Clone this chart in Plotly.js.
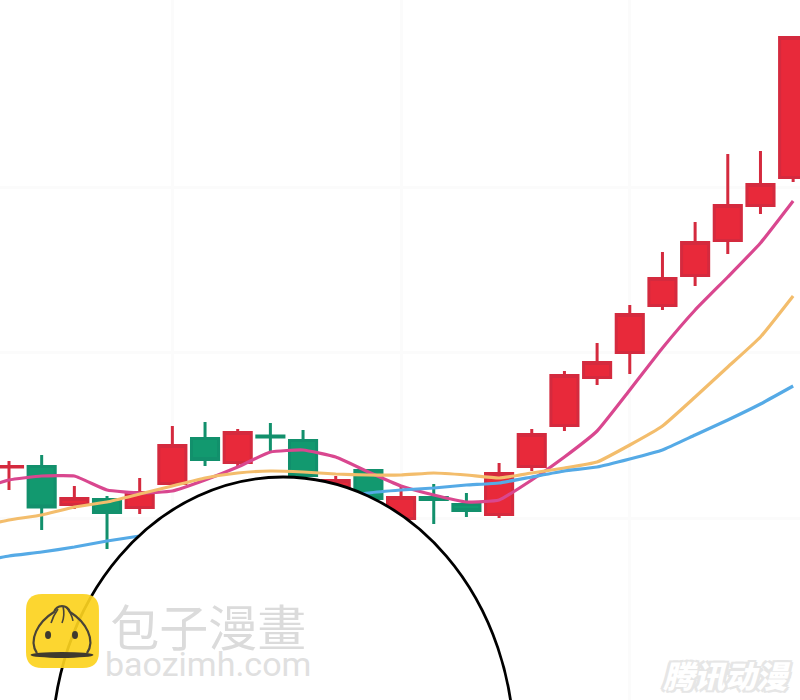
<!DOCTYPE html>
<html>
<head>
<meta charset="utf-8">
<script src="https://cdn.plot.ly/plotly-3.0.1.min.js"></script>
<style>html,body{margin:0;padding:0;background:#fff;overflow:hidden}</style>
</head>
<body>
<div id="chart" style="width:800px;height:700px"></div>
<script>
var candleIndex = [0,1,2,3,4,5,6,7,8,9,10,11,12,13,14,15,16,17,18,19,20,21,22,23,24];
var opens  = [233,233.5,195.5,200.5,192.5,216.5,261.5,237.5,264,259.5,213.5,229.5,181.5,202.5,195.5,185.5,233.5,274.5,322.5,347.5,394.5,424.5,459.5,494.5,522.5];
var closes = [233.5,193,201.5,187.5,207.5,254.5,240.5,267.5,263,224.5,219.5,201.5,202.5,200.5,189.5,226.5,265.5,324.5,337.5,385.5,421.5,457.5,494.5,515.5,662.5];
var highs  = [239,245,214,204,222,274,278,271,277,270,224,231,214,216,207,237,271,329,357,395,448,478,546,549,664];
var lows   = [210,170,191,151,186,215,234,232,248,223,210,198,178,176,183,182,229,269,315,326,390,414,446,486,518];

var maIndex = [-1,0,1,2,3,4,5,6,7,8,9,10,11,12,13,14,15,16,17,18,19,20,21,22,23,24];
var ma5  = [210,220,224,224,210,207,209,220,233,248,250,243,228,214,205,198,200,220,243,269,310,352,390,423,457,499];
var ma10 = [173,180,185,193,198,206,214,222,227,229,228,226,225,225,227,225,222,227,232,238,255,274,303,333,363,404];
var ma20 = [138,144,148,153,159,164,170,176,182,188,194,201,207,210,212,215,217,223,229,233,241,250,265,280,296,314];

var gridX = [5,12,19];
var gridY = [182,348,513];

var W = 800, H = 700;
function px(x){return (x/W).toFixed(4);}
function py(y){return ((H-y)/H).toFixed(4);}
function path(cmds){
  return cmds.map(function(c){
    var out = c[0];
    for (var i=1;i<c.length;i+=2){ out += (i>1?' ':'') + px(c[i]) + ',' + py(c[i+1]) + ' '; }
    return out;
  }).join('');
}
function paperShape(o){o.xref='paper';o.yref='paper';return o;}

var red='#e8293a', redLine='#d42a3e', green='#12996f', greenLine='#12906c';

var traces = [
  {type:'candlestick', x:candleIndex, open:opens, high:highs, low:lows, close:closes,
   increasing:{line:{color:redLine,width:3},fillcolor:red},
   decreasing:{line:{color:greenLine,width:3},fillcolor:green},
   whiskerwidth:0, showlegend:false, hoverinfo:'skip'},
  {type:'scatter', mode:'lines', x:maIndex, y:ma5,  line:{color:'#d9478f',width:3.2,shape:'spline',smoothing:0.4}, showlegend:false, hoverinfo:'skip'},
  {type:'scatter', mode:'lines', x:maIndex, y:ma10, line:{color:'#f3bd6c',width:3.2,shape:'spline',smoothing:0.4}, showlegend:false, hoverinfo:'skip'},
  {type:'scatter', mode:'lines', x:maIndex, y:ma20, line:{color:'#55aae6',width:3.2,shape:'spline',smoothing:0.4}, showlegend:false, hoverinfo:'skip'}
];

var shapes = [
  paperShape({type:'circle', x0:px(52), x1:px(514), y0:py(477), y1:py(1017),
    fillcolor:'#ffffff', line:{color:'#000000',width:2.8}, layer:'above'}),
  paperShape({type:'path', opacity:0.92, layer:'above', fillcolor:'#fcd21e', line:{width:0},
    path:path([['M',42,594],['L',83,594],['Q',99,594,99,610],['L',99,652],['Q',99,668,83,668],['L',42,668],['Q',26,668,26,652],['L',26,610],['Q',26,594,42,594],['Z']])}),
  paperShape({type:'path', layer:'above', line:{color:'#4a4436',width:2.2},
    path:path([['M',37,653],['C',28,640,38,622,54,612],['C',57,604,67,604,70,612],['C',86,622,96,640,87,653]])}),
  paperShape({type:'path', layer:'above', line:{color:'#4a4436',width:1.6},
    path:path([['M',58,609],['Q',53,616,51,623]])}),
  paperShape({type:'path', layer:'above', line:{color:'#4a4436',width:1.6},
    path:path([['M',63,606],['Q',65,616,62,623]])}),
  paperShape({type:'path', layer:'above', line:{color:'#4a4436',width:1.6},
    path:path([['M',66,607],['Q',72,614,73,621]])}),
  paperShape({type:'circle', layer:'above', fillcolor:'#3f3a2e', line:{width:0}, x0:px(30.5), x1:px(93.5), y0:py(652), y1:py(658)}),
  paperShape({type:'circle', layer:'above', fillcolor:'#3f3a2e', line:{width:0}, x0:px(45), x1:px(51), y0:py(631), y1:py(639)}),
  paperShape({type:'circle', layer:'above', fillcolor:'#3f3a2e', line:{width:0}, x0:px(72), x1:px(78), y0:py(631), y1:py(639)})
];

var annotations = [
  {xref:'paper',yref:'paper',x:px(208),y:py(636),text:'<span style="font-size:49px;color:#dbdbdb;font-family:\'Noto Sans CJK TC\'">包子漫畫</span><br><span style="font-size:34px;color:#e0e0e0;font-family:Roboto">baozimh.com</span>',
   showarrow:false,xanchor:'center',yanchor:'middle',
   font:{family:'"Noto Sans CJK TC",Roboto,sans-serif',size:23,color:'#dedede'}},
  {xref:'paper',yref:'paper',x:px(727),y:py(674),text:'腾讯动漫',showarrow:false,xanchor:'center',yanchor:'middle',
   font:{family:'"Noto Sans CJK SC",sans-serif',size:31,weight:900,style:'italic',color:'#ffffff',
         shadow:'2px 2px 0 #e6e6e6,-2px -2px 0 #e6e6e6,2px -2px 0 #e6e6e6,-2px 2px 0 #e6e6e6,3px 0 0 #e6e6e6,-3px 0 0 #e6e6e6'}}
];

var layout = {
  width:W, height:H, margin:{l:0,r:0,t:0,b:0,pad:0},
  paper_bgcolor:'#ffffff', plot_bgcolor:'#ffffff',
  showlegend:false, hovermode:false, boxgap:0.17, boxgroupgap:0,
  xaxis:{range:[-0.2755,24.21], tickvals:gridX, showticklabels:false, ticks:'', showgrid:true, gridcolor:'#fbfbfb', gridwidth:3,
         zeroline:false, showline:false, rangeslider:{visible:false}, fixedrange:true},
  yaxis:{range:[0,700], tickvals:gridY, showticklabels:false, ticks:'', showgrid:true, gridcolor:'#fbfbfb', gridwidth:3,
         zeroline:false, showline:false, fixedrange:true},
  shapes:shapes, annotations:annotations
};
Plotly.newPlot('chart', traces, layout, {displayModeBar:false, staticPlot:true});
</script>
</body>
</html>
